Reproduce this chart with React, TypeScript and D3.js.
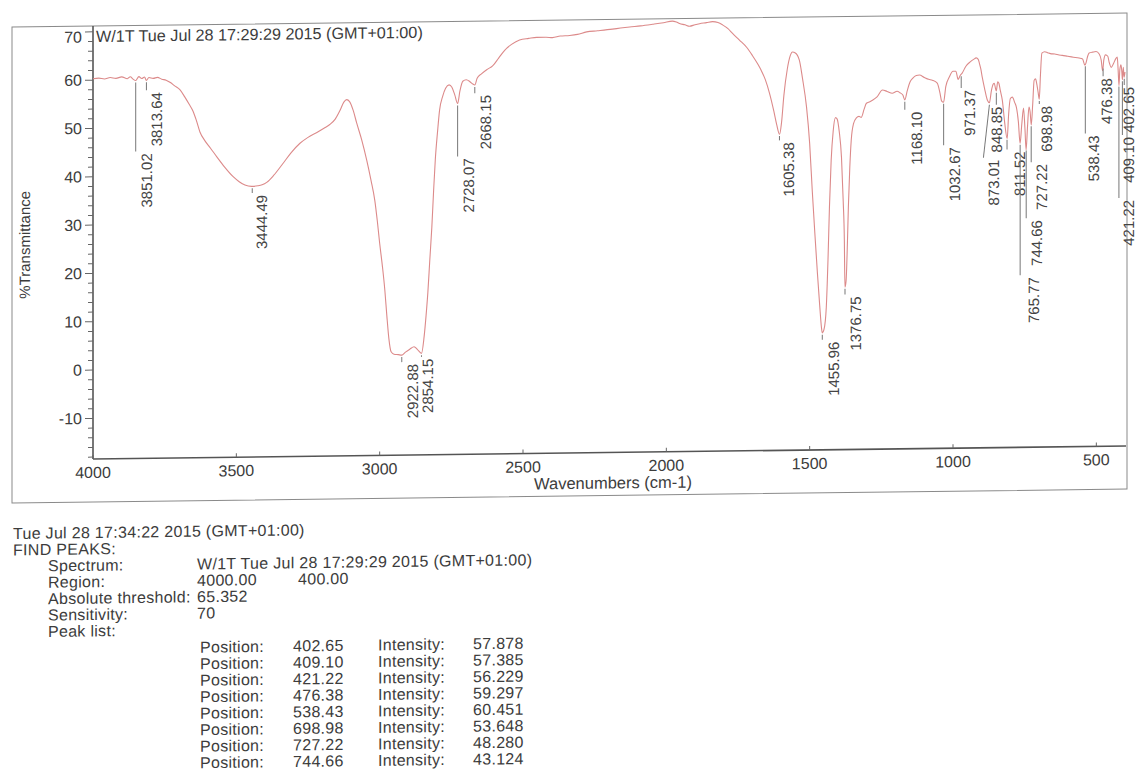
import React from 'react';
import * as d3 from 'd3';

// ---- spectrum (wavenumber cm-1, %T) ----
const spectrumW = [
  4000, 3980, 3960, 3940, 3920, 3900, 3880, 3870, 3860, 3851, 3840, 3830, 3820, 3814, 3805, 3790, 3775, 3760, 3745, 3730,
  3715, 3697, 3680, 3665, 3651, 3640, 3627, 3610, 3590, 3568, 3540, 3512, 3490, 3470, 3446, 3425, 3410, 3394, 3370, 3338,
  3310, 3278, 3250, 3219, 3190, 3174, 3155, 3139, 3125, 3115, 3105, 3092, 3080, 3062, 3045, 3030, 3017, 3008, 3000, 2990,
  2982, 2975, 2968, 2960, 2950, 2935, 2923, 2910, 2895, 2880, 2868, 2854, 2845, 2838, 2832, 2825, 2818, 2812, 2806, 2798,
  2791, 2780, 2770, 2758, 2748, 2738, 2728, 2720, 2710, 2698, 2685, 2675, 2668, 2660, 2645, 2625, 2606, 2585, 2564, 2540,
  2512, 2480, 2452, 2420, 2397, 2370, 2337, 2310, 2278, 2240, 2188, 2160, 2128, 2090, 2048, 2010, 1979, 1965, 1954, 1935,
  1919, 1900, 1884, 1860, 1839, 1820, 1804, 1785, 1769, 1745, 1720, 1700, 1680, 1670, 1655, 1640, 1625, 1615, 1605, 1598,
  1590, 1578, 1568, 1560, 1550, 1536, 1525, 1511, 1500, 1491, 1482, 1473, 1465, 1459, 1456, 1450, 1442, 1436, 1431, 1425,
  1418, 1410, 1404, 1397, 1389, 1383, 1379, 1377, 1373, 1368, 1365, 1360, 1355, 1347, 1337, 1328, 1320, 1310, 1302, 1290,
  1281, 1265, 1246, 1230, 1212, 1195, 1185, 1175, 1168, 1160, 1150, 1140, 1128, 1117, 1100, 1085, 1072, 1055, 1045, 1040,
  1033, 1025, 1013, 1000, 990, 982, 975, 968, 955, 940, 928, 919, 912, 908, 903, 898, 890, 880, 873, 866,
  860, 856, 852, 849, 844, 840, 835, 828, 820, 811, 806, 800, 793, 785, 779, 772, 766, 760, 754, 749,
  745, 740, 735, 731, 727, 722, 717, 712, 707, 703, 699, 695, 690, 680, 670, 660, 645, 630, 619, 600,
  580, 560, 548, 540, 536, 530, 525, 512, 501, 490, 483, 478, 474, 468, 460, 455, 448, 440, 432, 427,
  424, 421, 418, 414, 411, 409, 406, 403, 400,
];
const spectrumT = [
  60.3, 60.4, 60.2, 60.5, 60.3, 60.6, 60.2, 60.6, 60.1, 59.8, 60.6, 60.2, 60.5, 59.8, 60.4, 60.2, 60.4, 60.0, 59.8, 59.3,
  58.6, 57.8, 56.3, 54.8, 53.3, 51.5, 49.0, 47.2, 45.6, 43.8, 41.6, 39.7, 38.6, 37.9, 37.6, 37.7, 37.9, 38.4, 39.8, 42.2,
  44.4, 46.4, 47.6, 48.6, 49.6, 50.2, 51.3, 53.0, 54.8, 55.3, 54.9, 53.0, 50.4, 46.8, 42.7, 38.5, 34.4, 30.0, 25.5, 20.5,
  15.8, 10.5, 5.8, 3.0, 2.5, 2.4, 2.3, 2.9, 3.5, 4.0, 3.4, 2.6, 6.0, 10.5, 15.1, 22.0, 28.7, 36.0, 42.6, 48.5,
  52.9, 55.8, 57.4, 58.1, 57.6, 56.0, 54.2, 56.8, 58.8, 59.1, 58.7, 58.2, 58.0, 59.4, 60.3, 61.2, 61.9, 63.5, 65.1, 66.3,
  67.2, 67.5, 67.7, 67.7, 67.6, 67.9, 68.0, 68.2, 68.7, 68.9, 69.2, 69.4, 69.6, 69.8, 70.1, 70.4, 70.7, 70.5, 70.2, 69.9,
  69.6, 69.9, 70.1, 70.3, 70.5, 70.3, 69.8, 69.0, 68.0, 66.6, 65.1, 63.4, 61.5, 60.4, 58.4, 55.5, 51.8, 49.0, 47.0, 49.5,
  55.0, 60.5, 63.2, 64.0, 63.8, 62.3, 58.5, 52.6, 45.0, 35.3, 26.5, 18.2, 11.5, 7.0, 5.8, 6.5, 11.1, 21.0, 31.8, 41.5,
  47.5, 50.3, 50.0, 47.5, 42.1, 33.0, 24.9, 15.2, 16.5, 25.0, 31.8, 40.0, 45.6, 49.0, 50.2, 50.5, 50.3, 52.0, 53.2, 53.5,
  53.8, 54.5, 55.9, 55.6, 55.2, 55.6, 55.3, 54.8, 53.8, 55.6, 57.5, 58.3, 58.8, 58.9, 58.4, 58.0, 57.8, 57.2, 55.0, 53.5,
  53.2, 56.5, 58.4, 59.6, 59.6, 57.9, 58.7, 59.2, 60.6, 61.5, 62.0, 62.3, 62.0, 61.2, 60.0, 58.3, 56.0, 53.5, 53.0, 55.5,
  56.8, 57.0, 56.0, 55.4, 57.3, 57.0, 55.5, 53.5, 49.0, 45.5, 50.5, 53.8, 54.1, 53.0, 52.0, 49.0, 44.5, 48.5, 51.8, 47.5,
  43.1, 48.0, 52.0, 51.0, 48.3, 52.5, 57.5, 57.8, 56.5, 55.0, 53.6, 58.5, 63.1, 63.4, 63.2, 63.0, 62.9, 62.7, 62.6, 62.4,
  62.2, 62.0, 61.8, 60.5, 61.0, 62.4, 63.0, 63.2, 63.3, 62.8, 61.5, 59.3, 61.5, 62.6, 62.3, 61.0, 60.0, 60.8, 61.8, 62.1,
  59.5, 56.2, 59.5, 60.5, 59.0, 57.4, 60.0, 57.9, 59.0,
];

// ---- annotated peaks ----
const peakPositions = [
  3851.02, 3813.64, 3444.49, 2922.88, 2854.15, 2728.07, 2668.15, 1605.38, 1455.96, 1376.75, 1168.1, 1032.67, 971.37,
  873.01, 848.85, 811.52, 765.77, 744.66, 727.22, 698.98, 538.43, 476.38, 421.22, 409.1, 402.65,
];
const peakLabels = peakPositions.map((p) => p.toFixed(2));

// label layout: [leader end y (px), text offset (px), leader bottom x shift (px)]
const labelLayout: [number, number, number][] = [
  [152, 16, 0], [91, 16, 0], [195, 15, 0], [366, 16, 0], [361, 12, 0], [161, 16, 0], [98, 16, 0], [149, 15, 0],
  [349, 17, 0], [304, 16, 0], [120, 17, 0], [156, 16, 0], [99, 14, 0], [169, 16, -6], [116, 6, 0], [161, 18, 0],
  [287, 19, 0], [230, 16, 0], [174, 16, 0], [116, 13, 0], [146, 14, 0], [89, 9, 0], [211, 15, 0], [148, 11.5, 0],
  [98, 9.5, 0],
];

// ---- axes ----
const xTicks = [4000, 3500, 3000, 2500, 2000, 1500, 1000, 500];
const yTicks = [-10, 0, 10, 20, 30, 40, 50, 60, 70];
const yMinorTicks = d3.range(-18, 71, 2);

// ---- peak table text ----
const reportTime = 'Tue Jul 28 17:34:22 2015 (GMT+01:00)';
const spectrumName = 'W/1T Tue Jul 28 17:29:29 2015 (GMT+01:00)';
const tablePositions = ['402.65', '409.10', '421.22', '476.38', '538.43', '698.98', '727.22', '744.66'];
const tableIntensities = ['57.878', '57.385', '56.229', '59.297', '60.451', '53.648', '48.280', '43.124'];

const FONT = '"Liberation Sans", Arial, Helvetica, sans-serif';
const TXT = '#3c3c3c';

export default function App() {
  const left = 93, right = 1125, top = 26, bottom = 459;
  const x = d3.scaleLinear().domain([4000, 400]).range([left, right]);
  const y = d3.scaleLinear().domain([-18.4, 71.2]).range([bottom, top]);

  const data = spectrumW.map((w, i) => [w, spectrumT[i]] as [number, number]);
  const line = d3
    .line<[number, number]>()
    .x((d) => x(d[0]))
    .y((d) => y(d[1]))
    .curve(d3.curveMonotoneX);

  const asc = [...data].sort((a, b) => a[0] - b[0]);
  const interpT = (w: number) => {
    const i = d3.bisector((d: [number, number]) => d[0]).left(asc, w);
    if (i <= 0) return asc[0][1];
    if (i >= asc.length) return asc[asc.length - 1][1];
    const a = asc[i - 1], b = asc[i];
    const t = (w - a[0]) / (b[0] - a[0]);
    return a[1] + t * (b[1] - a[1]);
  };

  return (
    <div style={{ position: 'fixed', left: 0, top: 0, width: 1136, height: 770, background: '#fff' }}>
      <svg width={1136} height={770} style={{ display: 'block' }} fontFamily={FONT}>
        <rect width={1136} height={770} fill="#ffffff" />
        <g transform="translate(0,1.17) skewY(-0.72)">
          {/* outer frame */}
          <rect x={12} y={26} width={1127 - 12} height={502 - 26} fill="none" stroke="#8a8a8a" strokeWidth={1} />

          {/* title */}
          <text x={96} y={42} fontSize={16.2} fill={TXT}>{spectrumName}</text>

          {/* y axis */}
          <line x1={left} x2={left} y1={top} y2={bottom} stroke="#555" strokeWidth={1.6} />
          {yMinorTicks.map((v) => (
            <line key={'ym' + v} x1={left - (v % 10 === 0 ? 8 : 5)} x2={left} y1={y(v)} y2={y(v)} stroke="#666" strokeWidth={1} />
          ))}
          {yTicks.map((v) => (
            <text key={'yt' + v} x={82} y={Math.max(y(v), 37) + 5.5} fontSize={16} textAnchor="end" fill={TXT}>{v}</text>
          ))}
          <text transform={`translate(30,244) rotate(-90)`} fontSize={15} textAnchor="middle" fill={TXT}>%Transmittance</text>

          {/* x axis */}
          <line x1={left} x2={right + 1} y1={bottom} y2={bottom} stroke="#555" strokeWidth={1.6} />
          {xTicks.map((v) => (
            <g key={'xt' + v}>
              <line x1={x(v)} x2={x(v)} y1={bottom} y2={bottom - 4} stroke="#666" strokeWidth={1} />
              <text x={x(v)} y={478} fontSize={16} textAnchor="middle" fill={TXT}>{v}</text>
            </g>
          ))}
          <text x={613} y={495} fontSize={16.5} textAnchor="middle" fill={TXT}>Wavenumbers (cm-1)</text>

          {/* spectrum */}
          <path d={line(data) ?? ''} fill="none" stroke="#dc8a8a" strokeWidth={1.1} />

          {/* peak labels */}
          {peakPositions.map((p, i) => {
            const [endY, dx, shift] = labelLayout[i];
            const lx = x(p);
            const y0 = y(interpT(p)) + 2;
            const bx = lx + shift;
            return (
              <g key={'pk' + i}>
                <line x1={lx} y1={y0} x2={bx} y2={endY} stroke="#777" strokeWidth={1} />
                <text transform={`translate(${bx + dx},${endY + 2}) rotate(-90)`} fontSize={15} textAnchor="end" fill="#444">
                  {peakLabels[i]}
                </text>
              </g>
            );
          })}

          {/* peak report */}
          <g fontSize={16} letterSpacing={0.3} fill={TXT}>
            <text x={13} y={538}>{reportTime}</text>
            <text x={13} y={554.4}>FIND PEAKS:</text>
            <text x={48} y={570.8}>Spectrum:</text>
            <text x={197} y={570.8}>{spectrumName}</text>
            <text x={48} y={587.2}>Region:</text>
            <text x={197} y={587.2}>4000.00</text>
            <text x={298} y={587.2}>400.00</text>
            <text x={48} y={603.6}>Absolute threshold:</text>
            <text x={197} y={603.6}>65.352</text>
            <text x={48} y={620}>Sensitivity:</text>
            <text x={197} y={620}>70</text>
            <text x={48} y={636.4}>Peak list:</text>
            {tablePositions.map((p, i) => (
              <g key={'tp' + i}>
                <text x={200} y={654 + i * 16.5}>Position:</text>
                <text x={293} y={654 + i * 16.5}>{p}</text>
                <text x={378} y={654 + i * 16.5}>Intensity:</text>
                <text x={473} y={654 + i * 16.5}>{tableIntensities[i]}</text>
              </g>
            ))}
          </g>
        </g>
      </svg>
    </div>
  );
}
